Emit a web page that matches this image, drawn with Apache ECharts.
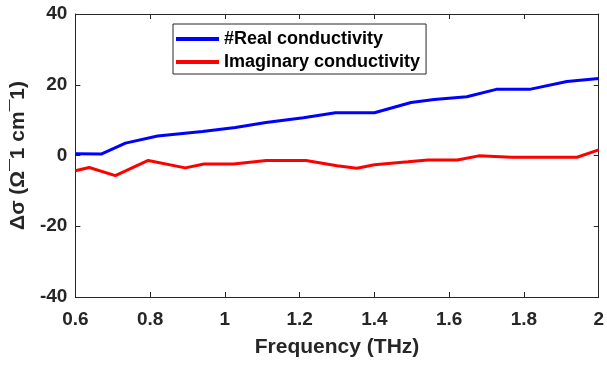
<!DOCTYPE html>
<html>
<head>
<meta charset="utf-8">
<script src="https://cdn.jsdelivr.net/npm/echarts@6/dist/echarts.min.js"></script>
<style>
html,body{margin:0;padding:0;background:#fff;}
#chart{width:607px;height:365px;}
</style>
</head>
<body>
<div id="chart"></div>
<script>
// Data
var realFreq = [0.6, 0.669, 0.734, 0.82, 0.94, 1.028, 1.11, 1.21, 1.296, 1.40, 1.498, 1.56, 1.647, 1.726, 1.815, 1.915, 2.0];
var realVals = [0.5, 0.4, 3.5, 5.5, 6.8, 7.9, 9.3, 10.7, 12.1, 12.1, 15.0, 15.8, 16.6, 18.7, 18.7, 20.9, 21.8];
var imagFreq = [0.6, 0.637, 0.707, 0.795, 0.894, 0.944, 1.023, 1.111, 1.217, 1.30, 1.353, 1.40, 1.49, 1.543, 1.622, 1.679, 1.767, 1.942, 2.0];
var imagVals = [-4.3, -3.4, -5.7, -1.4, -3.5, -2.4, -2.4, -1.4, -1.4, -2.9, -3.6, -2.6, -1.8, -1.25, -1.25, -0.1, -0.5, -0.5, 1.6];
var seriesNames = ['#Real conductivity', 'Imaginary conductivity'];
var xTitle = 'Frequency (THz)';
var yTitle = 'Δσ (Ω¯1 cm¯1)';

function pairs(xs, ys) { return xs.map(function (x, i) { return [x, ys[i]]; }); }

var axisColor = '#262626';
var font = 'Liberation Sans, Arial, Helvetica, sans-serif';
var chart = echarts.init(document.getElementById('chart'), null, {renderer: 'canvas'});
chart.setOption({
  animation: false,
  backgroundColor: '#ffffff',
  grid: {left: 71, right: 5, top: 14, bottom: 68, containLabel: false},
  legend: {
    orient: 'vertical',
    left: 173, top: 24,
    padding: [5, 6, 2, 3],
    itemGap: 3,
    itemWidth: 43, itemHeight: 4,
    icon: 'rect',
    backgroundColor: '#ffffff',
    borderColor: axisColor, borderWidth: 1,
    textStyle: {fontFamily: font, fontWeight: 'bold', fontSize: 18, color: '#000', lineHeight: 20},
    data: seriesNames
  },
  xAxis: [{
    type: 'value', min: 0.6, max: 2, interval: 0.2, position: 'bottom',
    name: xTitle, nameLocation: 'middle', nameGap: 40,
    nameTextStyle: {fontFamily: font, fontWeight: 'bold', fontSize: 21, color: axisColor},
    axisLine: {show: true, onZero: false, lineStyle: {color: axisColor, width: 1}},
    axisTick: {show: true, inside: true, length: 5, lineStyle: {color: axisColor}},
    axisLabel: {margin: 13, fontFamily: font, fontWeight: 'bold', fontSize: 19, color: axisColor,
      formatter: function (v) { return String(+v.toFixed(1)); }},
    splitLine: {show: false}
  }, {
    type: 'value', min: 0.6, max: 2, interval: 0.2, position: 'top',
    axisLine: {show: true, onZero: false, lineStyle: {color: axisColor, width: 1}},
    axisTick: {show: true, inside: true, length: 5, lineStyle: {color: axisColor}},
    axisLabel: {show: false}, splitLine: {show: false}
  }],
  yAxis: [{
    type: 'value', min: -40, max: 40, interval: 20, position: 'left',
    name: yTitle, nameLocation: 'middle', nameGap: 40,
    nameTextStyle: {fontFamily: font, fontWeight: 'bold', fontSize: 21, color: axisColor},
    axisLine: {show: true, onZero: false, lineStyle: {color: axisColor, width: 1}},
    axisTick: {show: true, inside: true, length: 5, lineStyle: {color: axisColor}},
    axisLabel: {margin: 8, fontFamily: font, fontWeight: 'bold', fontSize: 19, color: axisColor},
    splitLine: {show: false}
  }, {
    type: 'value', min: -40, max: 40, interval: 20, position: 'right',
    axisLine: {show: true, onZero: false, lineStyle: {color: axisColor, width: 1}},
    axisTick: {show: true, inside: true, length: 5, lineStyle: {color: axisColor}},
    axisLabel: {show: false}, splitLine: {show: false}
  }],
  series: [{
    name: seriesNames[0], type: 'line', xAxisIndex: 0, yAxisIndex: 0,
    data: pairs(realFreq, realVals), symbol: 'none', smooth: false,
    lineStyle: {color: '#0000ff', width: 3}, itemStyle: {color: '#0000ff'}
  }, {
    name: seriesNames[1], type: 'line', xAxisIndex: 0, yAxisIndex: 0,
    data: pairs(imagFreq, imagVals), symbol: 'none', smooth: false,
    lineStyle: {color: '#ff0000', width: 3}, itemStyle: {color: '#ff0000'}
  }]
});
</script>
</body>
</html>
